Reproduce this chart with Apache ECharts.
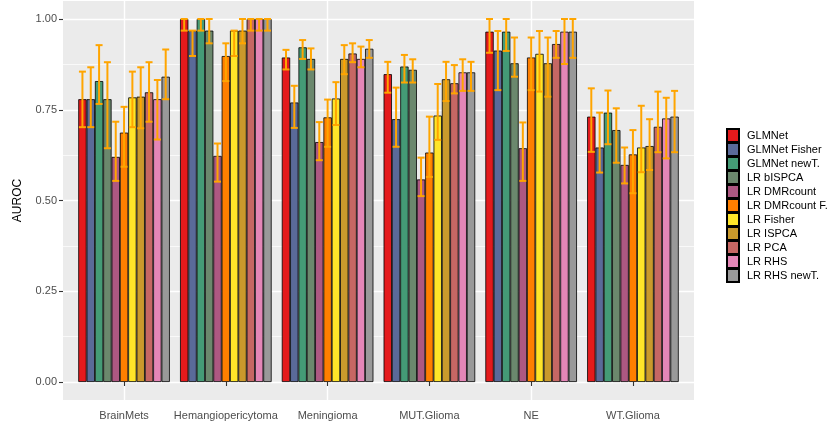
<!DOCTYPE html>
<html>
<head>
<meta charset="utf-8">
<script src="https://cdn.jsdelivr.net/npm/echarts@6/dist/echarts.min.js"></script>
<style>
  html, body { margin: 0; padding: 0; background: #ffffff; }
  #chart { width: 828px; height: 429px; }
</style>
</head>
<body>
<div id="chart"></div>
<script>
// Tumour groups on the x axis
const groups = ['BrainMets', 'Hemangiopericytoma', 'Meningioma', 'MUT.Glioma', 'NE', 'WT.Glioma'];

// Classification methods (one bar per method in every group)
const methods = ['GLMNet', 'GLMNet Fisher', 'GLMNet newT.', 'LR bISPCA', 'LR DMRcount',
  'LR DMRcount F.', 'LR Fisher', 'LR ISPCA', 'LR PCA', 'LR RHS', 'LR RHS newT.'];

const methodColors = ['#E41A1C', '#5A6A99', '#449B76', '#6B886D', '#AD5882',
  '#FF7F00', '#FFE529', '#CA9A2C', '#C66764', '#E486B7', '#999999'];

// Mean AUROC, one row per method, one column per group
const aurocMean = [
  [0.779, 1.000, 0.894, 0.848, 0.965, 0.731],
  [0.779, 0.968, 0.770, 0.724, 0.913, 0.646],
  [0.829, 1.000, 0.922, 0.869, 0.965, 0.742],
  [0.779, 0.968, 0.890, 0.860, 0.878, 0.694],
  [0.620, 0.623, 0.661, 0.558, 0.644, 0.598],
  [0.687, 0.898, 0.729, 0.632, 0.894, 0.627],
  [0.784, 0.968, 0.781, 0.734, 0.904, 0.646],
  [0.786, 0.968, 0.890, 0.834, 0.878, 0.650],
  [0.798, 1.000, 0.905, 0.823, 0.931, 0.703],
  [0.779, 1.000, 0.890, 0.853, 0.965, 0.726],
  [0.841, 1.000, 0.918, 0.853, 0.965, 0.731]
];

// Lower end of the error bars
const aurocLow = [
  [0.702, 0.968, 0.861, 0.797, 0.907, 0.634],
  [0.702, 0.898, 0.700, 0.648, 0.804, 0.577],
  [0.766, 0.968, 0.890, 0.825, 0.912, 0.655],
  [0.644, 0.933, 0.861, 0.825, 0.841, 0.604],
  [0.554, 0.552, 0.611, 0.512, 0.554, 0.547],
  [0.593, 0.829, 0.648, 0.565, 0.804, 0.520],
  [0.702, 0.898, 0.708, 0.667, 0.800, 0.578],
  [0.699, 0.933, 0.848, 0.774, 0.786, 0.584],
  [0.717, 0.968, 0.881, 0.795, 0.893, 0.633],
  [0.668, 0.968, 0.867, 0.802, 0.876, 0.616],
  [0.779, 0.968, 0.893, 0.802, 0.893, 0.633]
];

// Upper end of the error bars
const aurocHigh = [
  [0.855, 1.000, 0.915, 0.882, 1.000, 0.809],
  [0.867, 0.968, 0.816, 0.811, 0.967, 0.742],
  [0.928, 1.000, 0.942, 0.901, 1.000, 0.803],
  [0.881, 1.000, 0.919, 0.889, 0.949, 0.754],
  [0.717, 0.657, 0.716, 0.618, 0.715, 0.646],
  [0.758, 0.933, 0.778, 0.731, 0.949, 0.694],
  [0.855, 0.968, 0.826, 0.821, 0.967, 0.761],
  [0.867, 1.000, 0.928, 0.882, 0.949, 0.724],
  [0.881, 1.000, 0.933, 0.873, 0.967, 0.800],
  [0.832, 1.000, 0.924, 0.889, 1.000, 0.783],
  [0.916, 1.000, 0.942, 0.882, 1.000, 0.802]
];

const yTicks = [0, 0.25, 0.5, 0.75, 1];

const FONT = '"Liberation Sans", Arial, Helvetica, sans-serif';
const chart = echarts.init(document.getElementById('chart'), null, { renderer: 'canvas' });

// Panel geometry
const panelLeft = 63, panelWidth = 631, panelTop = 1, panelHeight = 399;
const unitTop = 19, unitHeight = 363;          // y = 1 .. y = 0
const band = panelWidth / (groups.length + 0.2); // discrete scale with 0.6 band padding each side
const barsLeft = panelLeft + 0.6 * band - 0.5 * band;
const barsWidth = band * groups.length;

const nM = methods.length;
const barSlot = 0.9 / nM;

const barSeries = methods.map((name, i) => ({
  name: name,
  type: 'bar',
  xAxisIndex: 3,
  yAxisIndex: 3,
  barGap: '0%',
  barCategoryGap: '10%',
  itemStyle: { color: methodColors[i], borderColor: '#000000', borderWidth: 0.8 },
  emphasis: { disabled: true },
  data: aurocMean[i],
  z: 2
}));

const errData = [];
methods.forEach((m, i) => {
  groups.forEach((g, j) => {
    errData.push([j, i, aurocLow[i][j], aurocHigh[i][j]]);
  });
});

const errorSeries = {
  type: 'custom',
  xAxisIndex: 3,
  yAxisIndex: 3,
  z: 5,
  silent: true,
  data: errData,
  encode: { x: 0, y: [2, 3] },
  renderItem: function (params, api) {
    const g = api.value(0);
    const m = api.value(1);
    const lo = api.coord([g, api.value(2)]);
    const hi = api.coord([g, api.value(3)]);
    const bw = api.size([1, 0])[0];
    const x = lo[0] + (m - (nM - 1) / 2) * barSlot * bw;
    const cap = barSlot * bw * 0.42;
    const style = { stroke: '#FFA500', lineWidth: 2 };
    return {
      type: 'group',
      children: [
        { type: 'line', shape: { x1: x, y1: lo[1], x2: x, y2: hi[1] }, style: style },
        { type: 'line', shape: { x1: x - cap, y1: lo[1], x2: x + cap, y2: lo[1] }, style: style },
        { type: 'line', shape: { x1: x - cap, y1: hi[1], x2: x + cap, y2: hi[1] }, style: style }
      ]
    };
  }
};

const option = {
  animation: false,
  backgroundColor: '#ffffff',
  textStyle: { fontFamily: FONT },
  grid: [
    // 0: grey panel
    { left: panelLeft, top: panelTop, width: panelWidth, height: panelHeight,
      show: true, backgroundColor: '#EBEBEB', borderWidth: 0, containLabel: false },
    // 1: horizontal grid lines and y axis
    { left: panelLeft, top: unitTop, width: panelWidth, height: unitHeight, containLabel: false },
    // 2: vertical grid lines at group centres
    { left: barsLeft + band / 2, top: panelTop, width: barsWidth - band, height: panelHeight, containLabel: false },
    // 3: bars
    { left: barsLeft, top: unitTop, width: barsWidth, height: unitHeight, containLabel: false }
  ],
  xAxis: [
    { gridIndex: 0, type: 'value', show: false },
    { gridIndex: 1, type: 'value', show: false },
    { gridIndex: 2, type: 'category', data: groups, boundaryGap: false,
      axisLine: { show: false }, axisTick: { show: false }, axisLabel: { show: false },
      splitLine: { show: true, lineStyle: { color: '#FFFFFF', width: 1.4 } } },
    { gridIndex: 3, type: 'category', data: groups, boundaryGap: true, offset: 18,
      axisLine: { show: false },
      axisTick: { show: true, alignWithLabel: true, length: 4, lineStyle: { color: '#333333', width: 1.1 } },
      axisLabel: { show: true, margin: 10, color: '#4D4D4D', fontSize: 11, fontFamily: FONT, interval: 0 },
      splitLine: { show: false } }
  ],
  yAxis: [
    { gridIndex: 0, type: 'value', show: false },
    { gridIndex: 1, type: 'value', min: yTicks[0], max: yTicks[yTicks.length - 1], interval: 0.25,
      name: 'AUROC', nameLocation: 'middle', nameRotate: 90, nameGap: 39,
      nameTextStyle: { color: '#000000', fontSize: 12, fontFamily: FONT },
      axisLine: { show: false },
      axisTick: { show: true, length: 4, lineStyle: { color: '#333333', width: 1.1 } },
      axisLabel: { show: true, margin: 6, color: '#4D4D4D', fontSize: 11, fontFamily: FONT,
        formatter: v => v.toFixed(2) },
      splitLine: { show: true, lineStyle: { color: '#FFFFFF', width: 1.4 } },
      minorTick: { show: false, splitNumber: 2 },
      minorSplitLine: { show: true, lineStyle: { color: '#FFFFFF', width: 0.7 } } },
    { gridIndex: 2, type: 'value', show: false, splitLine: { show: false } },
    { gridIndex: 3, type: 'value', min: 0, max: 1, show: false, splitLine: { show: false } }
  ],
  legend: {
    orient: 'vertical',
    left: 726,
    top: 128,
    padding: 0,
    itemWidth: 12,
    itemHeight: 13,
    itemGap: -1,
    icon: 'rect',
    selectedMode: false,
    data: methods,
    textStyle: { color: '#000000', fontSize: 11, lineHeight: 12, fontFamily: FONT, padding: [0, 0, 0, 3] }
  },
  series: barSeries.concat([errorSeries])
};

chart.setOption(option);
</script>
</body>
</html>
